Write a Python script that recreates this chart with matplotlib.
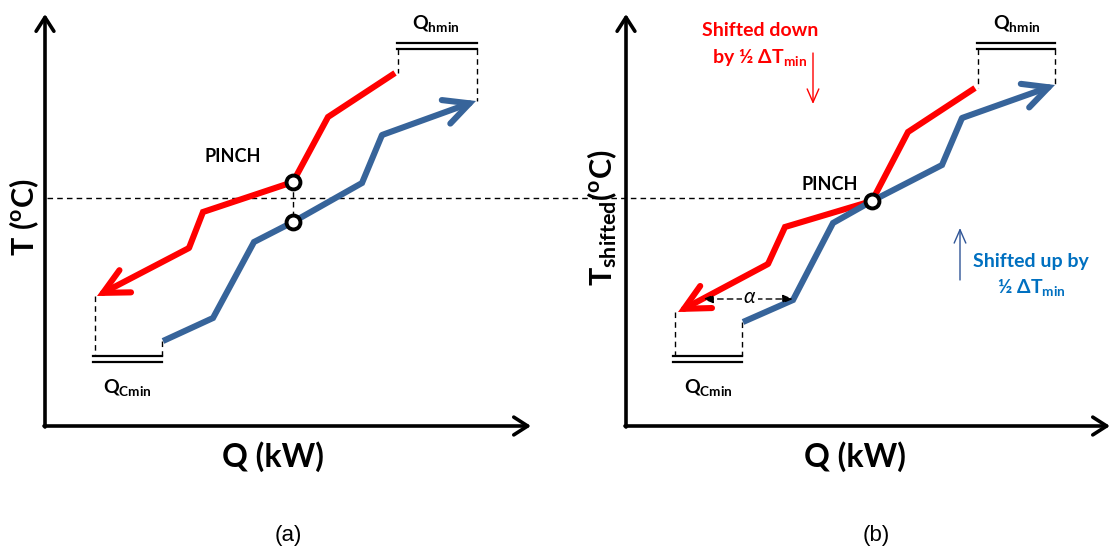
import matplotlib
matplotlib.use('Agg')
import matplotlib.pyplot as plt

plt.rcParams['mathtext.fontset'] = 'custom'
plt.rcParams['mathtext.rm'] = 'Lato'
plt.rcParams['mathtext.bf'] = 'Lato:bold'
plt.rcParams['mathtext.it'] = 'Lato:italic'
plt.rcParams['mathtext.fallback'] = 'stixsans'

RED = '#ff0000'
BLUE = '#37649a'
TXT_BLUE = '#0070c0'

# composite curves, panel (a): hot stream and cold stream (Q, T in drawing units)
hot_a_q = [395, 328, 293, 203, 189, 97]
hot_a_t = [73, 117, 182, 212, 248, 296]
cold_a_q = [163, 213, 254, 293, 362, 382, 476]
cold_a_t = [341, 318, 242, 222, 183, 135, 101]

# panel (b): shifted composite curves
hot_b_q = [975, 908, 872, 785, 768, 678]
hot_b_t = [88, 132, 201, 227, 264, 312]
cold_b_q = [743, 793, 833, 872, 942, 962, 1055]
cold_b_t = [322, 300, 223, 201, 165, 118, 85]

# pinch points
pinch_a_q = [293, 293]
pinch_a_t = [182, 222]
pinch_b_q = [872]
pinch_b_t = [201]
pinch_t_line = 198

# utility targets: (left, right) in Q, level in T
qh_a = (398, 477)
qc_a = (95, 162)
qh_b = (978, 1055)
qc_b = (675, 742)
qh_level = 46
qc_level = 359

fig = plt.figure(figsize=(11.11, 5.51), dpi=100)
ax = fig.add_axes([0, 0, 1, 1])
ax.set_xlim(0, 1111)
ax.set_ylim(551, 0)
ax.axis('off')

def axis_arrow(x0, y0, x1, y1):
    ax.annotate('', xy=(x1, y1), xytext=(x0, y0),
                arrowprops=dict(arrowstyle='->,head_length=0.5,head_width=0.32',
                                lw=2.6, color='black', mutation_scale=20,
                                shrinkA=0, shrinkB=0))

def curve(q, t, color):
    ax.plot(q[:-1], t[:-1], color=color, lw=4.4, solid_joinstyle='miter',
            solid_capstyle='butt', zorder=3)
    ax.annotate('', xy=(q[-1], t[-1]), xytext=(q[-2], t[-2]),
                arrowprops=dict(arrowstyle='->,head_length=0.9,head_width=0.45',
                                lw=4.4, color=color, mutation_scale=20,
                                shrinkA=0, shrinkB=0, joinstyle='miter'),
                zorder=3)

def dashed(xs, ys, lw=1.0):
    ax.plot(xs, ys, color='black', lw=lw, ls=(0, (4, 3)), zorder=2)

def double_bar(x0, x1, y):
    ax.plot([x0, x1], [y - 3, y - 3], color='black', lw=1.6)
    ax.plot([x0, x1], [y + 3, y + 3], color='black', lw=1.6)

# axes of both panels
axis_arrow(45, 427, 45, 14)
axis_arrow(44, 426, 531, 426)
axis_arrow(626, 427, 626, 14)
axis_arrow(625, 426, 1110, 426)

# pinch temperature line running across both panels
dashed([47, 860], [pinch_t_line, pinch_t_line])
dashed([293, 293], [182, 222])

# utility brackets
for (x0, x1), hot_t, cold_t in [(qh_a, hot_a_t, cold_a_t), (qh_b, hot_b_t, cold_b_t)]:
    double_bar(x0 - 1, x1, qh_level)
    dashed([x0, x0], [qh_level + 3, hot_t[0]])
    dashed([x1, x1], [qh_level + 3, cold_t[-1]])
for (x0, x1), hot_t, cold_t in [(qc_a, hot_a_t, cold_a_t), (qc_b, hot_b_t, cold_b_t)]:
    double_bar(x0 - 2, x1, qc_level)
    dashed([x0, x0], [hot_t[-1], qc_level - 3])
    dashed([x1, x1], [cold_t[0], qc_level - 3])

curve(hot_a_q, hot_a_t, RED)
curve(cold_a_q, cold_a_t, BLUE)
curve(hot_b_q, hot_b_t, RED)
curve(cold_b_q, cold_b_t, BLUE)

ax.plot(pinch_a_q, pinch_a_t, 'o', ms=10, mfc='white', mec='black', mew=2.8, zorder=5)
ax.plot(pinch_b_q, pinch_b_t, 'o', ms=10, mfc='white', mec='black', mew=2.8, zorder=5)

# alpha gap between the shifted curves
ax.annotate('', xy=(703, 299), xytext=(793, 299),
            arrowprops=dict(arrowstyle='<|-|>,head_length=0.6,head_width=0.25',
                            lw=1.0, ls=(0, (4, 3)), color='black',
                            mutation_scale=10, shrinkA=0, shrinkB=0))
ax.text(750, 297, r'$\alpha$', fontsize=15, ha='center', va='center',
        bbox=dict(fc='white', ec='none', pad=1), zorder=4)

# shift arrows
ax.annotate('', xy=(813, 104), xytext=(813, 53),
            arrowprops=dict(arrowstyle='->,head_length=0.8,head_width=0.35',
                            lw=1.0, color=RED, mutation_scale=12,
                            shrinkA=0, shrinkB=0))
ax.annotate('', xy=(960, 228), xytext=(960, 280),
            arrowprops=dict(arrowstyle='->,head_length=0.8,head_width=0.35',
                            lw=1.0, color='#2f5597', mutation_scale=12,
                            shrinkA=0, shrinkB=0))

bold = dict(family='Lato', weight='bold')
ax.text(760, 31, 'Shifted down', color=RED, fontsize=14, ha='center', va='center', **bold)
ax.text(760, 58, r'$\mathbf{by\ ½\ \Delta T_{min}}$', color=RED, fontsize=14,
        ha='center', va='center')
ax.text(1031, 262, 'Shifted up by', color=TXT_BLUE, fontsize=14, ha='center', va='center', **bold)
ax.text(1031, 288, r'$\mathbf{½\ \Delta T_{min}}$', color=TXT_BLUE, fontsize=14,
        ha='center', va='center')

ax.text(233, 156, 'PINCH', fontsize=13, ha='center', va='center', **bold)
ax.text(830, 185, 'PINCH', fontsize=13, ha='center', va='center', **bold)

for x, y in [(436, 24), (1017, 24)]:
    ax.text(x, y, r'$\mathbf{Q_{hmin}}$', fontsize=14, ha='center', va='center')
for x, y in [(127, 387), (708, 387)]:
    ax.text(x, y, r'$\mathbf{Q_{Cmin}}$', fontsize=14, ha='center', va='center')

ax.text(273, 457, 'Q (kW)', fontsize=23, ha='center', va='center', **bold)
ax.text(855, 457, 'Q (kW)', fontsize=23, ha='center', va='center', **bold)
ax.text(24, 217, r'$\mathbf{T\ (^{o}C)}$', fontsize=22, rotation=90,
        ha='center', va='center')
ax.text(602, 218, r'$\mathbf{T_{shifted}(^{o}C)}$', fontsize=22, rotation=90,
        ha='center', va='center')

ax.text(288, 535, '(a)', fontsize=16, family='Liberation Sans', ha='center', va='center')
ax.text(876, 535, '(b)', fontsize=16, family='Liberation Sans', ha='center', va='center')

fig.savefig('out.png', dpi=100)
